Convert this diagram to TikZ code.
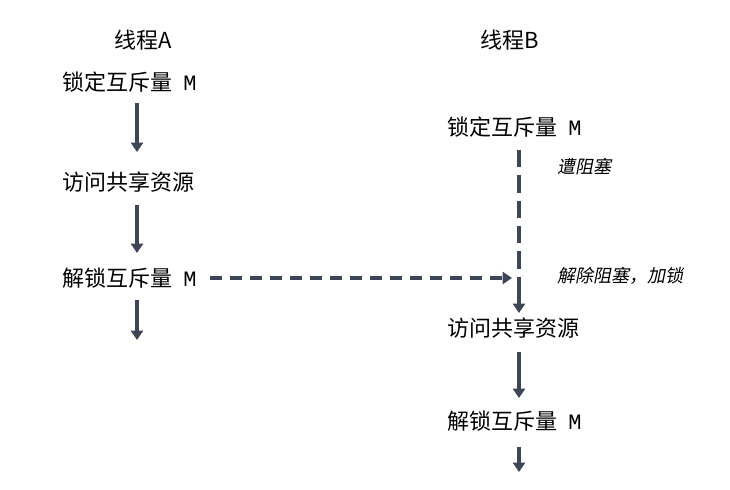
\documentclass[tikz,border=0pt]{standalone}
\usepackage{fontspec}
\setmainfont{Noto Sans CJK SC}
\newfontfamily\cjkit{Noto Sans CJK SC}[FakeSlant=0.2]
\newfontfamily\mymono{Liberation Mono}
\usetikzlibrary{arrows.meta}
\definecolor{ar}{HTML}{3D4656}
\begin{document}
\begin{tikzpicture}[x=0.75pt,y=-0.75pt,
  lab/.style={font=\fontsize{16.5pt}{18pt}\selectfont,inner sep=0pt,anchor=west},
  it/.style={font=\fontsize{13.5pt}{15pt}\selectfont\cjkit,inner sep=0pt,anchor=west},
  arr/.style={draw=ar,line width=2.8pt,-{Triangle[length=7pt,width=9pt]}},
  darr/.style={arr,dash pattern=on 9pt off 6pt}]
\useasboundingbox (0,0) rectangle (730,489);
\node[lab,anchor=center] (ta) at (143,40) {线程A};
\node[lab,anchor=center] (tb) at (510,40) {线程B};
\node[lab] (a1) at (62,82) {锁定互斥量\hspace{0.5em}{\mymono M}};
\node[lab] (a2) at (62,182) {访问共享资源};
\node[lab] (a3) at (62,278) {解锁互斥量\hspace{0.5em}{\mymono M}};
\coordinate (a4) at (137,340);
\node[lab] (b1) at (447,127) {锁定互斥量\hspace{0.5em}{\mymono M}};
\node[lab] (b2) at (447,328) {访问共享资源};
\node[lab] (b3) at (447,421) {解锁互斥量\hspace{0.5em}{\mymono M}};
\coordinate (b4) at (519,472);
\node[it] (l1) at (557,167) {遭阻塞};
\node[it] (l2) at (557,276) {解除阻塞，加锁};
\draw[arr] (137,103) -- (137,152);
\draw[arr] (137,205) -- (137,253);
\draw[arr] (137,300) -- (a4);
\draw[darr] (a3.east)++(10pt,0) -- (512,278);
\draw[draw=ar,line width=2.8pt,dash pattern=on 13pt off 6pt] (519,150) -- (519,296);
\draw[arr] (519,290) -- (519,313);
\draw[arr] (519,352) -- (519,398);
\draw[arr] (519,447) -- (b4);
\end{tikzpicture}
\end{document}
